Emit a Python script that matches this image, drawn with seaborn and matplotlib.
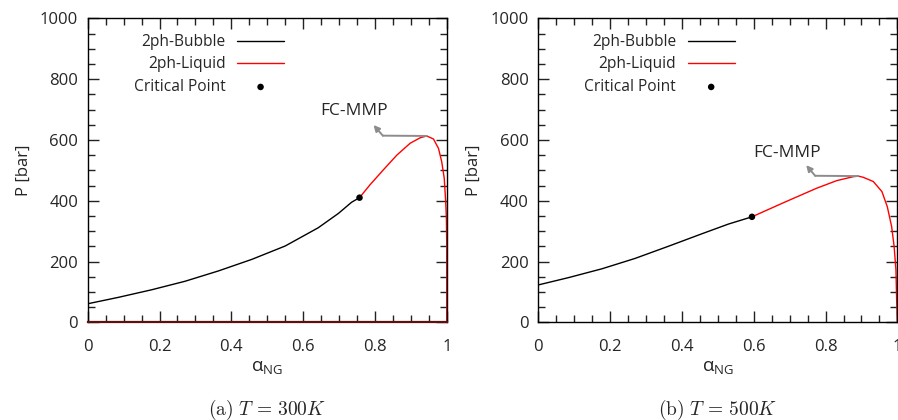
import numpy as np
import pandas as pd
import seaborn as sns
import matplotlib
matplotlib.use("Agg")
import matplotlib.pyplot as plt

# ---------------- data ----------------
# Panel (a) T = 300K
a_bub_x = [0.0, 0.085, 0.178, 0.271, 0.364, 0.457, 0.550, 0.642, 0.698, 0.735, 0.757]
a_bub_p = [61, 82, 107, 135, 169, 207, 251, 311, 358, 395, 410]
a_liq_x = [0.757, 0.786, 0.823, 0.861, 0.898, 0.926, 0.944, 0.963, 0.977, 0.986,
           0.993, 0.997, 0.999, 1.0, 1.0, 0.0]
a_liq_p = [410, 452, 501, 550, 589, 607, 613, 603, 572, 528,
           474, 397, 342, 250, 0, 0]
a_crit = (0.757, 410)
a_mmp = (0.944, 613)

# Panel (b) T = 500K
b_bub_x = [0.0, 0.084, 0.177, 0.269, 0.362, 0.455, 0.529, 0.595]
b_bub_p = [123, 147, 176, 210, 250, 291, 323, 347]
b_liq_x = [0.595, 0.682, 0.775, 0.831, 0.877, 0.891, 0.905, 0.933, 0.957, 0.972,
           0.984, 0.991, 0.996, 0.998, 1.0]
b_liq_p = [347, 393, 441, 466, 479, 481, 477, 463, 430, 380,
           315, 249, 172, 73, 0]
b_crit = (0.595, 347)
b_mmp = (0.891, 481)

captions = [r"$\mathrm{(a)}\ \mathit{T} \,=\, \mathrm{300}\mathit{K}$",
            r"$\mathrm{(b)}\ \mathit{T} \,=\, \mathrm{500}\mathit{K}$"]
series_names = ["2ph-Bubble", "2ph-Liquid", "Critical Point"]

# ---------------- style ----------------
sns.set_theme(style="ticks")
plt.rcParams["font.family"] = ["Open Sans", "DejaVu Sans"]
plt.rcParams["mathtext.fontset"] = "custom"
plt.rcParams["mathtext.rm"] = "Open Sans"
plt.rcParams["mathtext.it"] = "Open Sans"

fig = plt.figure(figsize=(8.98, 4.2), dpi=100)
positions = [[0.0977, 0.2326, 0.3998, 0.7238], [0.5995, 0.2326, 0.3998, 0.7238]]

panels = [
    (a_bub_x, a_bub_p, a_liq_x, a_liq_p, a_crit, a_mmp,
     (0.822, 614), (0.796, 649), (0.743, 695)),
    (b_bub_x, b_bub_p, b_liq_x, b_liq_p, b_crit, b_mmp,
     (0.771, 482), (0.746, 517), (0.692, 558)),
]

for i, (bx, bp, lx, lp, crit, mmp, elbow, head, txt) in enumerate(panels):
    ax = fig.add_axes(positions[i])
    df_b = pd.DataFrame({"x": bx, "p": bp})
    df_l = pd.DataFrame({"x": lx, "p": lp})
    sns.lineplot(data=df_b, x="x", y="p", ax=ax, color="black", lw=1.0,
                 sort=False, estimator=None, label=series_names[0])
    sns.lineplot(data=df_l, x="x", y="p", ax=ax, color="red", lw=1.0,
                 sort=False, estimator=None, label=series_names[1], clip_on=False)
    df_c = pd.DataFrame({"x": [crit[0]], "p": [crit[1]]})
    sns.scatterplot(data=df_c, x="x", y="p", ax=ax, color="black", s=22,
                    edgecolor="none", label=series_names[2], zorder=5)

    # FC-MMP annotation
    ax.plot([mmp[0], elbow[0]], [mmp[1], elbow[1]], color="#8c8c8c", lw=1.4, zorder=3)
    ax.annotate("", xy=head, xytext=elbow,
                arrowprops=dict(arrowstyle="-|>", color="#8c8c8c", lw=1.4,
                                mutation_scale=9, shrinkA=0, shrinkB=0))
    ax.text(txt[0], txt[1], "FC-MMP", ha="center", va="center", fontsize=12.5)

    ax.set_xlim(0, 1)
    ax.set_ylim(0, 1000)
    ax.set_xticks([0, 0.2, 0.4, 0.6, 0.8, 1])
    ax.set_xticklabels(["0", "0.2", "0.4", "0.6", "0.8", "1"])
    ax.set_yticks([0, 200, 400, 600, 800, 1000])
    ax.set_xticks(np.arange(0, 1.0001, 0.05), minor=True)
    ax.set_yticks(np.arange(0, 1000.1, 50), minor=True)
    ax.tick_params(which="both", direction="in", top=True, right=True,
                   color="#222222", width=1.0)
    ax.tick_params(which="major", length=8, labelsize=12)
    ax.tick_params(axis="x", which="major", pad=12)
    ax.tick_params(axis="y", which="major", pad=7)
    ax.tick_params(which="minor", length=5)
    for s in ax.spines.values():
        s.set_color("black")
        s.set_linewidth(1.0)
    if i == 0:
        ax.spines["bottom"].set_color("#5c1010")
        ax.spines["bottom"].set_linewidth(1.6)
    ax.set_xlabel(r"$\mathregular{α_{NG}}$", fontsize=13.5, labelpad=2)
    ax.set_ylabel("P [bar]", fontsize=12, labelpad=6)

    leg = ax.legend(loc="upper left", bbox_to_anchor=(0.111, 0.969), frameon=False,
                    markerfirst=False, fontsize=11.2, handlelength=3.0,
                    handletextpad=0.75, labelspacing=0.42, borderaxespad=0.0)
    for t in leg.get_texts():
        t.set_ha("right")

    fig.text(positions[i][0] + positions[i][2] * 0.5, 0.025, captions[i],
             ha="center", va="center", fontsize=14, math_fontfamily="cm")

fig.savefig("out.png", dpi=100)
